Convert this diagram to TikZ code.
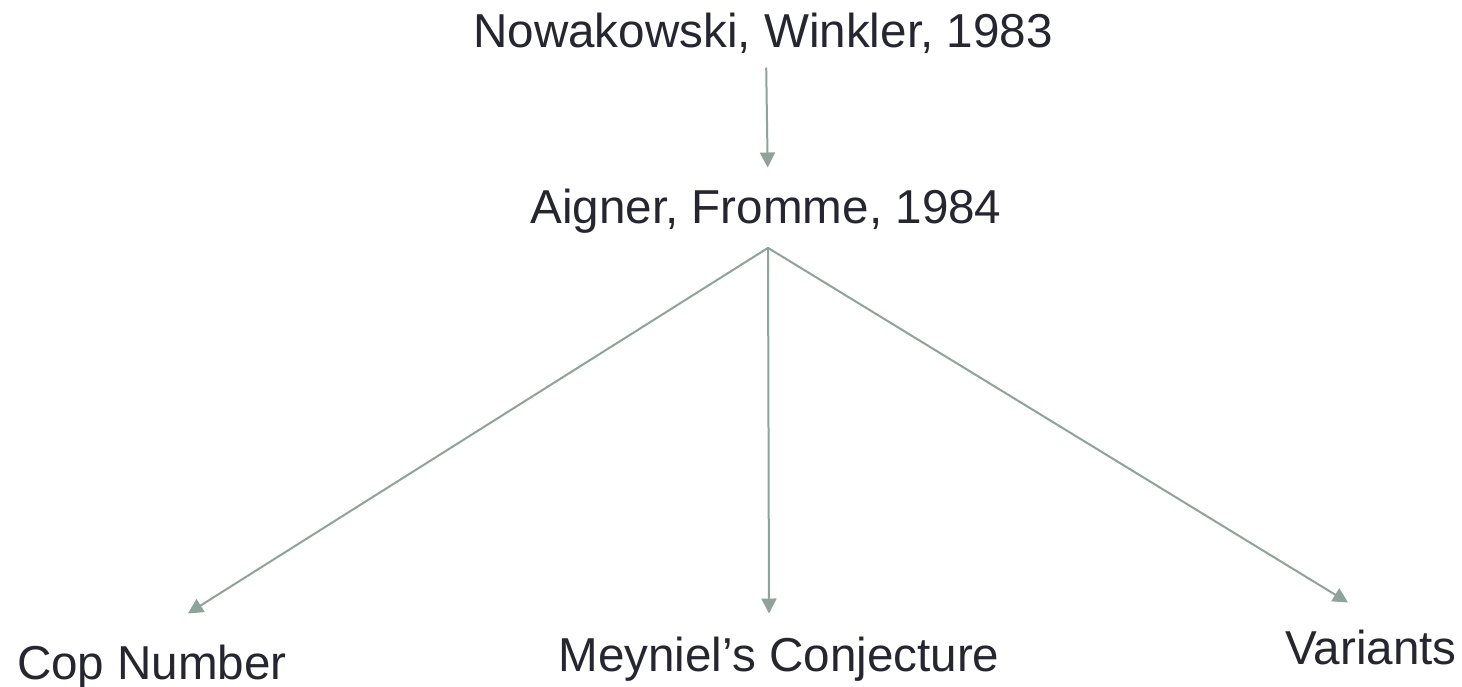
\documentclass[tikz,border=0pt]{standalone}
\usepackage{fontspec}
\setmainfont{Liberation Sans}
\usepackage{xcolor}
\usepackage{tikz}
\usetikzlibrary{arrows.meta,positioning}
\definecolor{ink}{HTML}{262631}
\definecolor{sage}{HTML}{8FA398}
\tikzset{
    every picture/.style={line cap=round,line join=round},
    papernode/.style={inner sep=0pt,outer sep=0pt,text=ink,anchor=base,
      font=\fontsize{47.6}{57}\selectfont},
    flowarrow/.style={-{Triangle[length=15pt,width=15pt]},draw=sage,
      line width=2pt}
}

\begin{document}
\begin{tikzpicture}[x=1pt,y=-1pt]
  \useasboundingbox (0,0) rectangle (1462,687);
  \node[papernode] (nw) at (763,48) {Nowakowski, Winkler, 1983};
  \node[papernode] (af) at (766,224) {Aigner, Fromme, 1984};
  \node[papernode,anchor=base west] (cop) at (17,679) {Cop Number};
  \node[papernode] (mey) at (779,671) {Meyniel’s Conjecture};
  \node[papernode] (var) at (1371,664) {Variants};
  \coordinate (hub) at ([xshift=2pt,yshift=-14pt]af.south);
  \draw[flowarrow,shorten <=14pt,shorten >=22pt] ([xshift=3pt]nw.south) -- ([xshift=2pt]af.north);
  \draw[flowarrow] (hub) -- ([xshift=36pt,yshift=31pt]cop.north);
  \draw[flowarrow] (hub) -- ([xshift=-10pt,yshift=23pt]mey.north);
  \draw[flowarrow] (hub) -- ([xshift=-23pt,yshift=27pt]var.north);
\end{tikzpicture}
\end{document}
